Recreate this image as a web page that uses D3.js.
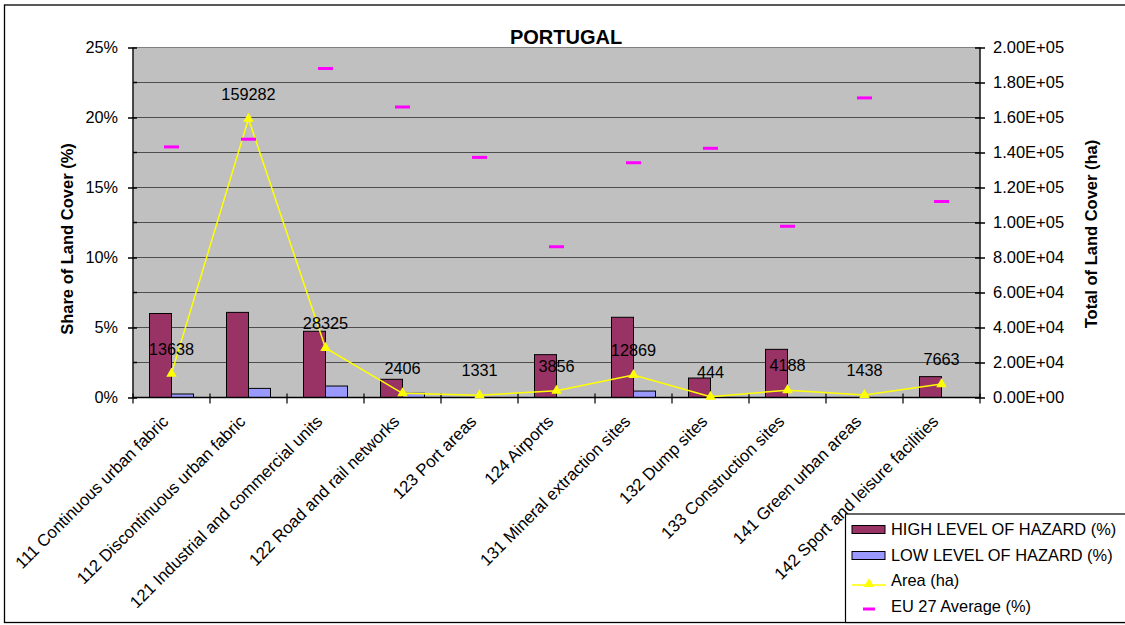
<!DOCTYPE html>
<html>
<head>
<meta charset="utf-8">
<script src="https://cdn.jsdelivr.net/npm/d3@7"></script>
<style>
  html, body { margin: 0; padding: 0; background: #fff; }
  svg { display: block; font-family: "Liberation Sans", Arial, sans-serif; }
</style>
</head>
<body>
<svg id="chart" width="1125" height="625"></svg>
<script>
// Land cover categories (CORINE level-3 artificial surfaces)
const categories = [
  "111 Continuous urban fabric",
  "112 Discontinuous urban fabric",
  "121 Industrial and commercial units",
  "122 Road and rail networks",
  "123 Port areas",
  "124 Airports",
  "131 Mineral extraction sites",
  "132 Dump sites",
  "133 Construction sites",
  "141 Green urban areas",
  "142 Sport and leisure facilities"
];

// Share of land cover under high / low hazard (%)
const highHazard = [6.0, 6.08, 4.73, 1.3, 0, 3.06, 5.73, 1.39, 3.44, 0, 1.49];
const lowHazard  = [0.25, 0.65, 0.82, 0.3, 0, 0, 0.46, 0, 0, 0, 0];

// Total area per category (ha)
const areaHa = [13638, 159282, 28325, 2406, 1331, 3856, 12869, 444, 4188, 1438, 7663];

// EU 27 average share (%)
const eu27Avg = [17.9, 18.45, 23.5, 20.75, 17.15, 10.77, 16.77, 17.8, 12.23, 21.4, 14.0];

// Axis ticks
const leftTicks = [0, 5, 10, 15, 20, 25];
const leftMinorTicks = [2.5, 7.5, 12.5, 17.5, 22.5];
const rightTicks = [0, 20000, 40000, 60000, 80000, 100000, 120000, 140000, 160000, 180000, 200000];

const seriesNames = ["HIGH LEVEL OF HAZARD (%)", "LOW LEVEL OF HAZARD (%)", "Area (ha)", "EU 27 Average (%)"];
const title = "PORTUGAL";

const colors = { high: "#993366", low: "#9999FF", area: "#FFFF00", eu: "#FF00FF", plot: "#C0C0C0", grid: "#4d4d4d" };

const svg = d3.select("#chart");
const plot = { left: 133, right: 980, top: 47.5, bottom: 397.5 };

const x = d3.scaleBand().domain(categories).range([plot.left, plot.right]).padding(0);
const xSub = d3.scaleBand().domain(["high", "low"]).range([0, x.bandwidth()]).paddingInner(0).paddingOuter(0.75);
const yLeft = d3.scaleLinear().domain([0, 25]).range([plot.bottom, plot.top]);
const yRight = d3.scaleLinear().domain([0, 200000]).range([plot.bottom, plot.top]);

// Outer frame
svg.append("rect")
  .attr("x", 4.5).attr("y", 5).attr("width", 1140).attr("height", 617.5)
  .attr("fill", "none").attr("stroke", "#000").attr("stroke-width", 1.3);

// Plot background
svg.append("rect")
  .attr("x", plot.left).attr("y", plot.top)
  .attr("width", plot.right - plot.left).attr("height", plot.bottom - plot.top)
  .attr("fill", colors.plot).attr("stroke", "#808080").attr("stroke-width", 1);

// Horizontal gridlines every 2.5%
const gridVals = d3.range(0, 25.01, 2.5);
svg.append("g").selectAll("line").data(gridVals.filter(v => v > 0 && v < 25)).join("line")
  .attr("x1", plot.left).attr("x2", plot.right)
  .attr("y1", d => yLeft(d)).attr("y2", d => yLeft(d))
  .attr("stroke", colors.grid).attr("stroke-width", 1.2);

// Bars
const groups = svg.append("g").selectAll("g").data(categories).join("g")
  .attr("transform", d => `translate(${x(d)},0)`);
groups.append("rect")
  .attr("x", xSub("high")).attr("width", xSub.bandwidth())
  .attr("y", (d, i) => yLeft(highHazard[i]))
  .attr("height", (d, i) => yLeft(0) - yLeft(highHazard[i]))
  .attr("fill", colors.high).attr("stroke", "#000").attr("stroke-width", 1)
  .attr("display", (d, i) => highHazard[i] > 0 ? null : "none");
groups.append("rect")
  .attr("x", xSub("low")).attr("width", xSub.bandwidth())
  .attr("y", (d, i) => yLeft(lowHazard[i]))
  .attr("height", (d, i) => yLeft(0) - yLeft(lowHazard[i]))
  .attr("fill", colors.low).attr("stroke", "#000").attr("stroke-width", 1)
  .attr("display", (d, i) => lowHazard[i] > 0 ? null : "none");

// Axes
const leftAxis = svg.append("g").attr("transform", `translate(${plot.left},0)`)
  .call(d3.axisLeft(yLeft).tickValues(leftTicks).tickSize(5).tickPadding(10).tickFormat(d => d + "%"));
leftAxis.selectAll(".tick line").attr("x1", 4).attr("x2", -5).attr("stroke-width", 1.5);
leftAxis.select(".domain").attr("d", `M0,${plot.top}V${plot.bottom}`).attr("stroke-width", 1.2);
leftAxis.selectAll("text").attr("font-size", 16.3).attr("fill", "#000");
svg.append("g").selectAll("line").data(leftMinorTicks).join("line")
  .attr("x1", plot.left).attr("x2", plot.left + 4)
  .attr("y1", d => yLeft(d)).attr("y2", d => yLeft(d))
  .attr("stroke", "#000").attr("stroke-width", 1.5);

const sci = v => {
  if (v === 0) return "0.00E+00";
  const e = Math.floor(Math.log10(v));
  const m = v / Math.pow(10, e);
  return m.toFixed(2) + "E+" + String(e).padStart(2, "0");
};
const rightAxis = svg.append("g").attr("transform", `translate(${plot.right},0)`)
  .call(d3.axisRight(yRight).tickValues(rightTicks).tickSize(5).tickPadding(8).tickFormat(sci));
rightAxis.selectAll(".tick line").attr("x1", -5).attr("x2", 5).attr("stroke-width", 1.5);
rightAxis.select(".domain").attr("d", `M0,${plot.top}V${plot.bottom}`).attr("stroke-width", 1.2);
rightAxis.selectAll("text").attr("font-size", 16.5).attr("fill", "#000");

const bottomAxis = svg.append("g").attr("transform", `translate(0,${plot.bottom})`);
bottomAxis.append("line").attr("x1", plot.left).attr("x2", plot.right)
  .attr("stroke", "#000").attr("stroke-width", 1.5);
const boundaries = d3.range(categories.length + 1).map(i => plot.left + i * x.step());
bottomAxis.selectAll("line.tk").data(boundaries).join("line").attr("class", "tk")
  .attr("x1", d => d).attr("x2", d => d).attr("y1", -4).attr("y2", 6)
  .attr("stroke", "#000").attr("stroke-width", 1.2);
bottomAxis.selectAll("text").data(categories).join("text")
  .attr("transform", d => `translate(${x(d) + x.bandwidth() / 2 - 2},${25}) rotate(-45)`)
  .attr("text-anchor", "end").attr("font-size", 16.8).attr("fill", "#000")
  .text(d => d);

// Area line with triangle markers
const cx = d => x(d) + x.bandwidth() / 2;
const areaLine = d3.line().x((v, i) => cx(categories[i])).y(v => yRight(v));
svg.append("path").datum(areaHa).attr("d", areaLine)
  .attr("fill", "none").attr("stroke", colors.area).attr("stroke-width", 1.5);
svg.append("g").selectAll("path").data(areaHa).join("path")
  .attr("transform", (v, i) => `translate(${cx(categories[i])},${yRight(v)})`)
  .attr("d", d3.symbol(d3.symbolTriangle, 48))
  .attr("fill", colors.area);

// EU 27 average markers (short dashes)
svg.append("g").selectAll("line").data(eu27Avg).join("line")
  .attr("x1", (v, i) => cx(categories[i]) - 7.5).attr("x2", (v, i) => cx(categories[i]) + 7.5)
  .attr("y1", v => yLeft(v)).attr("y2", v => yLeft(v))
  .attr("stroke", colors.eu).attr("stroke-width", 3);

// Area value labels
svg.append("g").selectAll("text").data(areaHa).join("text")
  .attr("x", (v, i) => cx(categories[i])).attr("y", v => yRight(v) - 19)
  .attr("text-anchor", "middle").attr("font-size", 16.3).attr("fill", "#000")
  .text(v => v);

// Title
svg.append("text").attr("x", 566).attr("y", 44).attr("text-anchor", "middle")
  .attr("font-size", 20).attr("font-weight", "bold").text(title);

// Axis titles
svg.append("text").attr("transform", `translate(73,239) rotate(-90)`)
  .attr("text-anchor", "middle").attr("font-size", 16.5).attr("font-weight", "bold")
  .text("Share of Land Cover (%)");
svg.append("text").attr("transform", `translate(1097,234) rotate(-90)`)
  .attr("text-anchor", "middle").attr("font-size", 16.5).attr("font-weight", "bold")
  .text("Total of Land Cover (ha)");

// Legend
const lg = svg.append("g");
lg.append("rect").attr("x", 845.5).attr("y", 514).attr("width", 300).attr("height", 108.5)
  .attr("fill", "#fff").attr("stroke", "#000").attr("stroke-width", 1.2);
const rows = [535, 560.5, 586, 612];
lg.append("rect").attr("x", 852).attr("y", rows[0] - 9.5).attr("width", 33).attr("height", 8)
  .attr("fill", colors.high).attr("stroke", "#000").attr("stroke-width", 1);
lg.append("rect").attr("x", 852).attr("y", rows[1] - 9).attr("width", 33).attr("height", 8)
  .attr("fill", colors.low).attr("stroke", "#000").attr("stroke-width", 1);
lg.append("line").attr("x1", 852).attr("x2", 886).attr("y1", rows[2] - 1).attr("y2", rows[2] - 1)
  .attr("stroke", colors.area).attr("stroke-width", 1.5);
lg.append("path").attr("transform", `translate(869,${rows[2] - 2})`)
  .attr("d", d3.symbol(d3.symbolTriangle, 48)).attr("fill", colors.area);
lg.append("line").attr("x1", 863).attr("x2", 875).attr("y1", rows[3] - 3).attr("y2", rows[3] - 3)
  .attr("stroke", colors.eu).attr("stroke-width", 3);
lg.selectAll("text").data(seriesNames).join("text")
  .attr("x", 891).attr("y", (d, i) => rows[i]).attr("font-size", 16.4).attr("fill", "#000")
  .text(d => d);
</script>
</body>
</html>
